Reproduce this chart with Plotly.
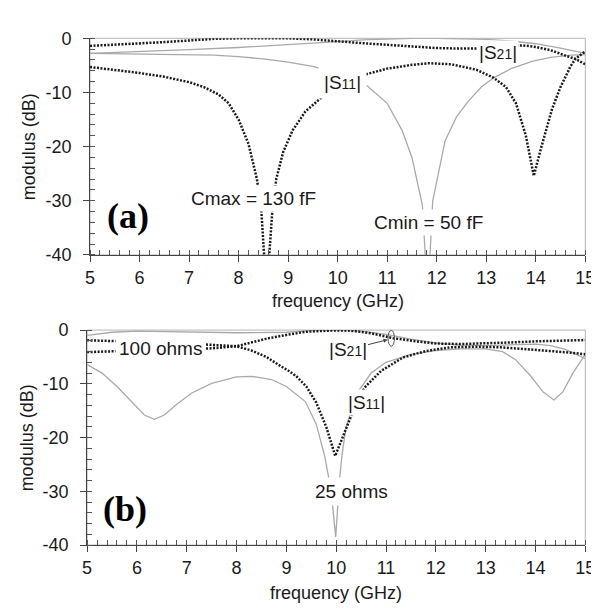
import plotly.graph_objects as go

# ---------------- panel (a) ----------------
f_a_s11_cmax = [5.0, 5.5, 6.0, 6.5, 7.0, 7.3, 7.6, 7.8, 8.0, 8.2, 8.37, 8.46, 8.51, 8.57, 8.63, 8.68, 8.76, 8.9, 9.09, 9.35,
                9.65, 10.0, 10.3, 10.59, 11.0, 11.5, 11.85, 12.3, 12.8, 13.15, 13.4, 13.6, 13.8, 13.96, 14.1, 14.33,
                14.5, 14.7, 14.8, 15.0]
db_a_s11_cmax = [-5.3, -5.8, -6.4, -7.1, -8.1, -9.0, -10.4, -12.0, -15.0, -19.5, -26.0, -32.0, -38.5, -48.0, -38.5, -32.0,
                 -26.0, -21.0, -17.0, -13.5, -11.1, -9.0, -7.6, -6.6, -5.6, -4.9, -4.6, -4.8, -5.8, -7.3, -9.0, -12.0,
                 -18.0, -25.4, -20.5, -13.0, -9.0, -5.2, -3.8, -2.4]

f_a_s21_cmax = [5.0, 5.5, 6.0, 6.5, 7.0, 7.5, 8.0, 8.5, 9.0, 9.5, 10.0, 10.5, 11.0, 11.5, 12.0, 12.5, 12.8, 13.2,
                13.74, 14.0, 14.3, 14.6, 14.8, 15.0]
db_a_s21_cmax = [-1.4, -1.2, -1.0, -0.7, -0.4, -0.1, 0.0, 0.0, 0.0, -0.2, -0.6, -0.9, -1.2, -1.5, -1.8, -1.9, -1.9,
                 -1.6, -1.3, -1.6, -2.2, -3.2, -3.8, -4.8]

f_a_s11_cmin = [5.0, 6.0, 7.0, 7.5, 8.0, 8.5, 9.0, 9.5, 10.0, 10.3, 10.6, 11.0, 11.3, 11.5, 11.71, 11.82, 11.92,
                12.17, 12.4, 12.63, 12.9, 13.15, 13.5, 13.94, 14.3, 14.72, 15.0]
db_a_s11_cmin = [-2.8, -2.9, -3.0, -3.1, -3.4, -3.8, -4.4, -5.2, -6.5, -7.5, -8.8, -12.0, -17.0, -22.0, -30.8, -48.0,
                 -30.0, -18.9, -14.5, -11.7, -9.0, -7.3, -5.6, -4.2, -3.5, -3.1, -3.0]

f_a_s21_cmin = [5.0, 6.0, 7.0, 8.0, 9.0, 9.5, 10.0, 10.5, 11.0, 11.5, 12.0, 12.5, 13.0, 13.5, 14.0, 14.5, 15.0]
db_a_s21_cmin = [-2.8, -2.5, -2.1, -1.7, -1.2, -0.9, -0.6, -0.3, -0.1, 0.0, 0.0, -0.05, -0.2, -0.5, -1.0, -1.8, -2.8]

# ---------------- panel (b) ----------------
f_b_s11_100 = [5.0, 5.5, 6.0, 6.5, 7.0, 7.5, 8.0, 8.3, 8.6, 8.9, 9.05, 9.2, 9.4, 9.6, 9.8, 9.98, 10.15, 10.3, 10.45,
               10.59, 10.9, 11.34, 11.8, 12.3, 12.8, 13.3, 13.8, 14.3, 14.7, 15.0]
db_b_s11_100 = [-1.9, -2.0, -2.1, -2.3, -2.5, -2.7, -3.0, -3.8, -5.0, -6.8, -7.6, -8.6, -10.5, -13.5, -18.0, -23.4,
                -19.5, -15.9, -12.5, -10.5, -7.6, -5.1, -3.9, -3.2, -3.1, -3.2, -3.5, -3.9, -4.2, -4.5]

f_b_s21_100 = [5.0, 5.5, 6.0, 6.5, 7.0, 7.5, 8.0, 8.3, 8.6, 9.0, 9.4, 9.9, 10.3, 10.7, 11.14, 11.6, 12.0, 12.5,
               13.0, 13.5, 14.0, 14.5, 15.0]
db_b_s21_100 = [-4.1, -3.9, -3.8, -3.7, -3.6, -3.4, -3.0, -2.3, -1.6, -0.9, -0.3, -0.1, -0.1, -0.6, -1.5, -2.1, -2.5,
                -2.6, -2.5, -2.3, -2.1, -1.95, -1.85]

f_b_s11_25 = [5.0, 5.3, 5.6, 5.9, 6.15, 6.35, 6.55, 6.8, 7.1, 7.5, 8.0, 8.3, 8.7, 9.0, 9.38, 9.6, 9.77, 9.9, 9.99,
              10.07, 10.12, 10.2, 10.4, 10.7, 11.0, 11.5, 12.0, 12.5, 13.0, 13.34, 13.6, 13.9, 14.15, 14.37, 14.55,
              14.75, 14.96, 15.0]
db_b_s11_25 = [-6.4, -8.0, -10.5, -13.5, -15.8, -16.6, -15.8, -13.8, -11.7, -9.9, -8.7, -8.6, -9.2, -10.5, -13.3, -17.5,
               -23.5, -30.0, -38.5, -27.4, -23.0, -18.0, -12.0, -8.0, -6.0, -4.5, -3.8, -3.5, -3.5, -4.0, -5.5, -8.5,
               -11.5, -13.0, -11.5, -8.0, -4.9, -4.5]

f_b_s21_25 = [5.0, 5.5, 6.0, 7.0, 8.0, 9.0, 9.5, 10.0, 10.5, 11.0, 11.5, 12.0, 12.5, 13.0, 13.5, 14.0, 14.3, 14.6, 15.0]
db_b_s21_25 = [-1.0, -0.4, -0.2, -0.3, -0.5, -0.4, -0.1, 0.0, -0.2, -0.8, -1.7, -2.4, -2.8, -2.9, -2.7, -2.6, -2.9,
               -3.6, -5.3]

x_tickvals = [5, 6, 7, 8, 9, 10, 11, 12, 13, 14, 15]
y_tickvals = [-40, -30, -20, -10, 0]
y_ticktext = ["-40", "-30", "-20", "-10", "0"]

GRAY = "#a9a9a9"
BLACK = "#1a1a1a"
FONT = "Liberation Sans, Arial, sans-serif"

fig = go.Figure()

def gray(x, y, xa, ya):
    fig.add_trace(go.Scatter(x=x, y=y, mode="lines", xaxis=xa, yaxis=ya,
                             line=dict(color=GRAY, width=1.3), showlegend=False, hoverinfo="skip"))

def black(x, y, xa, ya):
    fig.add_trace(go.Scatter(x=x, y=y, mode="lines", xaxis=xa, yaxis=ya,
                             line=dict(color=BLACK, width=2.5, dash="2px,1.5px"), showlegend=False,
                             hoverinfo="skip"))

gray(f_a_s21_cmin, db_a_s21_cmin, "x", "y")
gray(f_a_s11_cmin, db_a_s11_cmin, "x", "y")
black(f_a_s21_cmax, db_a_s21_cmax, "x", "y")
black(f_a_s11_cmax, db_a_s11_cmax, "x", "y")

gray(f_b_s21_25, db_b_s21_25, "x2", "y2")
gray(f_b_s11_25, db_b_s11_25, "x2", "y2")
black(f_b_s21_100, db_b_s21_100, "x2", "y2")
black(f_b_s11_100, db_b_s11_100, "x2", "y2")

def xaxis(domain, anchor):
    return dict(domain=domain, anchor=anchor, range=[5, 15], tickmode="array", tickvals=x_tickvals,
                ticks="outside", ticklen=6, tickcolor="#444", showline=True, linecolor="#444", linewidth=1,
                showgrid=False, zeroline=False, ticklabelstandoff=0,
                tickfont=dict(family=FONT, size=18, color=BLACK),
                minor=dict(dtick=0.2, tick0=5, ticks="inside", ticklen=5, tickcolor="#555", showgrid=False))

def yaxis(domain, anchor):
    return dict(domain=domain, anchor=anchor, range=[-40, 0], tickmode="array", tickvals=y_tickvals,
                ticktext=y_ticktext, ticks="outside", ticklen=6, tickcolor="#444", showline=True,
                linecolor="#444", linewidth=1, showgrid=False, zeroline=False, ticklabelstandoff=8,
                tickfont=dict(family=FONT, size=18, color=BLACK),
                minor=dict(dtick=2, tick0=0, ticks="inside", ticklen=5, tickcolor="#555", showgrid=False))

xa_dom = [79 / 599, 587 / 599]
xb_dom = [76 / 599, 587 / 599]
ya_dom = [1 - 245 / 608, 1 - 21 / 608]
yb_dom = [1 - 545 / 608, 1 - 322.7 / 608]

fig.update_layout(
    width=599, height=608, margin=dict(l=0, r=0, t=0, b=0),
    paper_bgcolor="white", plot_bgcolor="white",
    xaxis=xaxis(xa_dom, "y"), yaxis=yaxis(ya_dom, "x"),
    xaxis2=xaxis(xb_dom, "y2"), yaxis2=yaxis(yb_dom, "x2"),
)

# light gray frame (top/right)
for xr, yr in (("x domain", "y domain"), ("x2 domain", "y2 domain")):
    fig.add_shape(type="rect", xref=xr, yref=yr, x0=0, x1=1, y0=0, y1=1,
                  line=dict(color="#b5b5b5", width=1), layer="below")

# ellipse marker in panel (b)
fig.add_shape(type="circle", xref="x2", yref="y2", x0=11.04, x1=11.17, y0=-3.0, y1=-0.05,
              line=dict(color="#555", width=1))

def lab(text, x, y, xa, ya, size=19, pad=2, bg="white"):
    fig.add_annotation(text=text, x=x, y=y, xref=xa, yref=ya, showarrow=False, xanchor="center",
                       yanchor="middle", font=dict(family=FONT, size=size, color=BLACK),
                       bgcolor=bg, borderpad=pad)

sub = '<span style="font-size:14px">%s</span>'

lab("|S" + sub % "21" + "|", 13.23, -2.6, "x", "y", pad=1)
lab("|S" + sub % "11" + "|", 10.1, -8.2, "x", "y", pad=5)
lab("Cmax = 130 fF", 8.31, -29.6, "x", "y", pad=2)
lab("Cmin = 50 fF", 11.84, -34.1, "x", "y", pad=2)

lab("100 ohms", 6.48, -3.4, "x2", "y2", pad=3)
lab("|S" + sub % "11" + "|", 10.6, -13.5, "x2", "y2", pad=2)
lab("25 ohms", 10.3, -30.0, "x2", "y2", pad=3)

fig.add_annotation(text="|S" + sub % "21" + "|", x=11.03, y=-1.8, xref="x2", yref="y2", showarrow=True,
                   ax=-40, ay=10, arrowhead=2, arrowsize=0.8, arrowwidth=1, arrowcolor="#444",
                   font=dict(family=FONT, size=19, color=BLACK))

for t, x, y, xa, ya in (("(a)", 5.76, -32.9, "x", "y"), ("(b)", 5.76, -33.3, "x2", "y2")):
    fig.add_annotation(text="<b>%s</b>" % t, x=x, y=y, xref=xa, yref=ya, showarrow=False,
                       font=dict(family="Liberation Serif, Times New Roman, serif", size=36, color="black"))

# axis titles
for x, y in ((333 / 599, 1 - 293 / 608), (331.5 / 599, 1 - 595 / 608)):
    fig.add_annotation(text="frequency (GHz)", x=x, y=y, xref="paper", yref="paper", showarrow=False,
                       xanchor="center", yanchor="middle", font=dict(family=FONT, size=18, color=BLACK))
for x, y in ((16 / 599, 1 - 133 / 608), (14 / 599, 1 - 434 / 608)):
    fig.add_annotation(text="modulus (dB)", x=x, y=y, xref="paper", yref="paper", showarrow=False,
                       textangle=-90, xanchor="center", yanchor="middle",
                       font=dict(family=FONT, size=18, color=BLACK))

fig.write_html("out.html")
